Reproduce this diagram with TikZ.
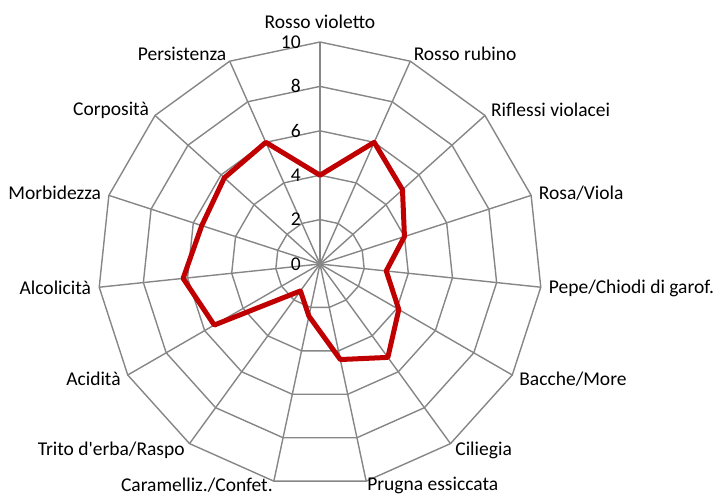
\documentclass[tikz,border=0pt]{standalone}
\usepackage{fontspec}
\setmainfont{Carlito}
\definecolor{griglia}{RGB}{134,134,134}
\definecolor{rossovino}{RGB}{192,0,0}
\begin{document}
\begin{tikzpicture}[x=1pt,y=1pt,
    asse/.style={draw=griglia, line width=1.4pt},
    dati/.style={draw=rossovino, line width=5pt, line join=round},
    etichetta/.style={font=\fontsize{19.5}{22}\selectfont, inner sep=0pt}]
    \useasboundingbox (0,0) rectangle (718,-498);
    \begin{scope}[shift={(320,-264)}, x=22.2pt, y=22.2pt]
        % anelli della griglia
        \foreach \r in {2,4,6,8,10} {
            \draw[asse] (90:\r) \foreach \k in {1,...,14} { -- ({90-24*\k}:\r) } -- cycle;
        }
        \foreach \k in {0,...,14} {
            \draw[asse] (0,0) -- ({90-24*\k}:10);
        }
        \draw[asse, line width=2pt] (0,0) -- (0,10);
        % valori medi
        \draw[dati] (90:4) \foreach \v [count=\k from 1] in {6,5,4,3,4.1,5.2,4.4,2.4,1.5,5.5,6.2,5.6,5.8,6} { -- ({90-24*\k}:\v) } -- cycle;
        % scala
        \foreach \v in {0,2,...,10} {
            \node[etichetta, anchor=east] (t\v) at (-0.86,\v) {\v};
        }
        % descrittori
        \foreach \nome/\anc/\rr [count=\k from 0] in {{Rosso violetto}/south/10.6, {Rosso rubino}/west/10.36, {Riflessi violacei}/west/10.36, {Rosa/Viola}/west/10.36, {Pepe/Chiodi di garof.}/west/10.36, {Bacche/More}/west/10.36, {Ciliegia}/west/10.36, {Prugna essiccata}/west/10.2, {Caramelliz./Confet.}/east/10.2, {Trito d\textquotesingle erba/Raspo}/east/10.36, {Acidità}/east/10.36, {Alcolicità}/east/10.36, {Morbidezza}/east/10.36, {Corposità}/east/10.36, {Persistenza}/east/10.36} {
            \node[etichetta, anchor=\anc] (d\k) at ({90-24*\k}:\rr) {\nome};
        }
    \end{scope}
\end{tikzpicture}
\end{document}
